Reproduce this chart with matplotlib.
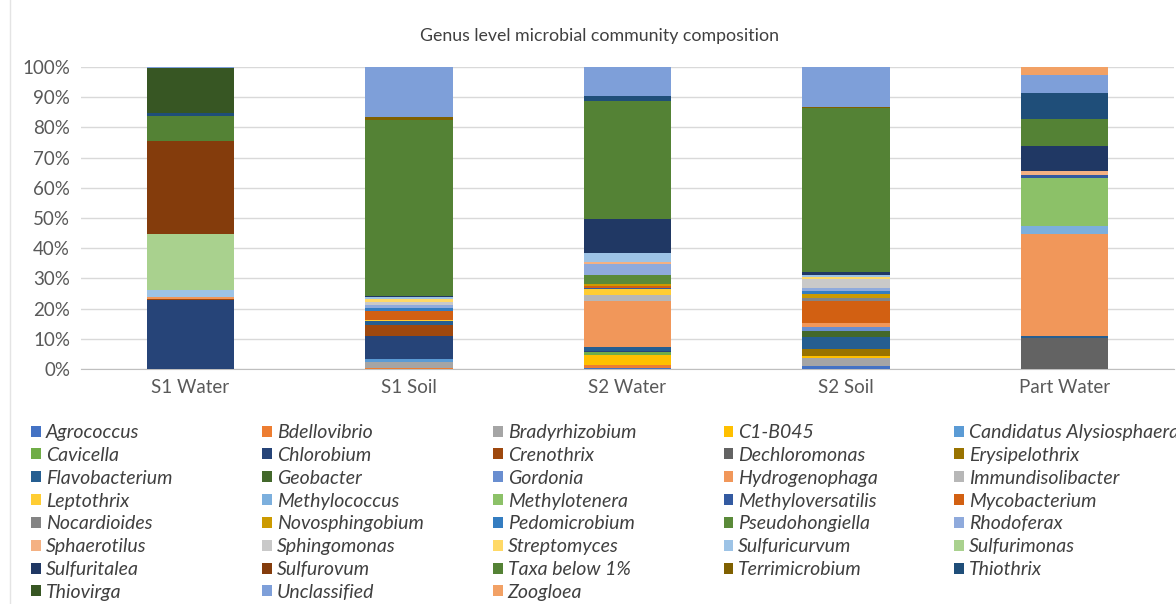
import numpy as np
import matplotlib
matplotlib.use("Agg")
import matplotlib.pyplot as plt
from matplotlib.patches import Patch
from matplotlib.lines import Line2D

plt.rcParams['font.family'] = ['Lato', 'DejaVu Sans']

samples = ["S1 Water", "S1 Soil", "S2 Water", "S2 Soil", "Part Water"]

genera = ["Agrococcus", "Bdellovibrio", "Bradyrhizobium", "C1-B045", "Candidatus Alysiosphaera",
          "Cavicella", "Chlorobium", "Crenothrix", "Dechloromonas", "Erysipelothrix",
          "Flavobacterium", "Geobacter", "Gordonia", "Hydrogenophaga", "Immundisolibacter",
          "Leptothrix", "Methylococcus", "Methylotenera", "Methyloversatilis", "Mycobacterium",
          "Nocardioides", "Novosphingobium", "Pedomicrobium", "Pseudohongiella", "Rhodoferax",
          "Sphaerotilus", "Sphingomonas", "Streptomyces", "Sulfuricurvum", "Sulfurimonas",
          "Sulfuritalea", "Sulfurovum", "Taxa below 1%", "Terrimicrobium", "Thiothrix",
          "Thiovirga", "Unclassified", "Zoogloea"]

colors = ["#4472C4", "#ED7D31", "#A5A5A5", "#FFC000", "#5B9BD5",
          "#70AD47", "#264478", "#9E480E", "#636363", "#997300",
          "#255E91", "#43682B", "#698ED0", "#F1975A", "#B7B7B7",
          "#FFCD33", "#7CAFDD", "#8CC168", "#335AA1", "#D26012",
          "#848484", "#CC9A00", "#347DC1", "#5A8A39", "#8FAADC",
          "#F4B183", "#C9C9C9", "#FFD966", "#9DC3E6", "#A9D18E",
          "#203864", "#843C0C", "#548235", "#7F6000", "#1F4E79",
          "#375623", "#7E9FD9", "#F2A165"]

# relative abundance (%) per genus, same order as `genera`
s1_water = [0, 0, 0, 0, 0, 0, 22.7, 0.5, 0, 0,
            0, 0, 0, 0.6, 0, 0, 0, 0, 0, 0,
            0, 0, 0, 0, 0, 0, 0, 0, 2.4, 18.5,
            0, 30.9, 8.2, 0, 0.9, 14.9, 0.4, 0]
s1_soil = [0, 0.3, 1.9, 0, 1.1, 0, 7.7, 3.5, 0, 0,
           1.4, 0, 0, 0, 0, 0.5, 0, 0, 0, 2.8,
           0, 0, 0.9, 0, 1.1, 0, 1.1, 0.8, 0.8, 0,
           0.3, 0, 58.3, 0.9, 0, 0, 16.6, 0]
s2_water = [0.2, 1.2, 0, 3.1, 0, 1.1, 0.5, 0, 0, 0,
            1.1, 0, 0, 15.4, 1.9, 1.9, 0, 0, 0.5, 0.6,
            0, 0.5, 0, 3.0, 3.7, 0.7, 0, 0, 3.0, 0,
            11.4, 0, 39.0, 0, 1.6, 0, 9.6, 0]
s2_soil = [1.1, 0, 2.4, 0.9, 0, 0, 0, 0, 0, 2.4,
           3.9, 2.0, 1.3, 1.1, 0, 0, 0, 0, 0, 7.3,
           1.2, 1.3, 0.9, 0, 1.1, 0, 2.8, 0.8, 0.7, 0,
           0.8, 0, 54.5, 0.3, 0, 0, 13.2, 0]
part_water = [0, 0, 0, 0, 0, 0, 0, 0, 10.4, 0,
              0.5, 0, 0, 33.9, 0, 0, 2.7, 15.6, 1.0, 0,
              0, 0, 0, 0, 0, 1.5, 0, 0, 0, 0,
              8.2, 0, 8.9, 0, 8.8, 0, 5.9, 2.6]

data = np.array([s1_water, s1_soil, s2_water, s2_soil, part_water]).T / 100.0

fig = plt.figure(figsize=(11.76, 6.04), dpi=100)
ax = fig.add_axes([0.069, 0.389, 0.929, 0.500])

x = np.arange(len(samples))
bottom = np.zeros(len(samples))
for i, name in enumerate(genera):
    ax.bar(x, data[i], 0.4, bottom=bottom, color=colors[i], label=name, zorder=3)
    bottom += data[i]

ax.set_xlim(-0.5, len(samples) - 0.5)
ax.set_ylim(0, 1.0)
ax.set_yticks(np.arange(0, 1.01, 0.1))
ax.set_yticklabels(["%d%%" % v for v in range(0, 101, 10)])
ax.set_xticks(x)
ax.set_xticklabels(samples)
ax.tick_params(axis='both', length=0, labelsize=13.5, colors='#595959')
ax.tick_params(axis='x', pad=7)
ax.tick_params(axis='y', pad=8)
ax.grid(axis='y', color='#D9D9D9', linewidth=1, zorder=0)
for s in ['top', 'right', 'left']:
    ax.spines[s].set_visible(False)
ax.spines['bottom'].set_color('#BFBFBF')
fig.text(0.51, 0.94, "Genus level microbial community composition", fontsize=12.8,
         color='#404040', ha='center', va='center')

# thin chart-area border on the left
fig.add_artist(Line2D([0.0085, 0.0085], [0, 1], transform=fig.transFigure,
                      color='#E4E4E4', linewidth=1))

# legend: row-major order across 5 evenly spaced columns
handles = [Patch(facecolor=c, edgecolor='none') for c in colors]
col_x = [0.0267, 0.2229, 0.4192, 0.6154, 0.8116]
for c in range(5):
    fig.legend(handles[c::5], genera[c::5], loc='upper left',
               bbox_to_anchor=(col_x[c], 0.298), frameon=False,
               prop={'style': 'italic', 'size': 14}, labelcolor='#404040',
               handlelength=0.5, handleheight=0.5, handletextpad=0.25,
               labelspacing=0.3, borderaxespad=0, borderpad=0)

fig.savefig("out.png", dpi=100)
